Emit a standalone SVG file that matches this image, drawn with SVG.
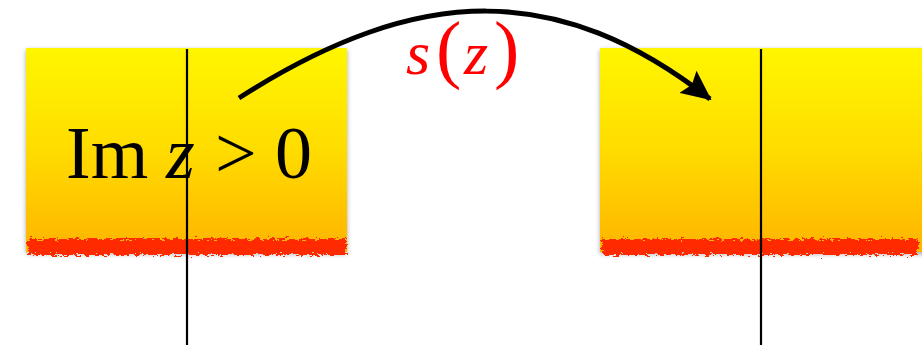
<svg xmlns="http://www.w3.org/2000/svg" width="922" height="345" viewBox="0 0 922 345">
<style>
.ax{stroke:#000;stroke-width:2.2;fill:none}
.big{font-family:"Liberation Serif","DejaVu Serif",serif;font-size:74px;fill:#000}
.lab{font-family:"Liberation Serif","DejaVu Serif",serif;font-size:62px;fill:#ff0000}
.par{font-size:76px}
.it{font-style:italic}
</style>
<defs>
<linearGradient id="yg" x1="0" y1="0" x2="0" y2="1">
<stop offset="0" stop-color="#fff600"/>
<stop offset="0.5" stop-color="#ffdc00"/>
<stop offset="1" stop-color="#ffb400"/>
</linearGradient>
<filter id="sh" x="-5%" y="-5%" width="110%" height="115%">
<feGaussianBlur in="SourceAlpha" stdDeviation="2.5"/>
<feOffset dx="0" dy="2" result="b"/>
<feComponentTransfer><feFuncA type="linear" slope="0.35"/></feComponentTransfer>
<feMerge><feMergeNode/><feMergeNode in="SourceGraphic"/></feMerge>
</filter>
<filter id="rough" x="-2%" y="-60%" width="104%" height="220%">
<feTurbulence type="fractalNoise" baseFrequency="0.2 0.5" numOctaves="3" seed="4" result="n"/>
<feDisplacementMap in="SourceGraphic" in2="n" scale="10" xChannelSelector="R" yChannelSelector="G"/>
</filter>
<marker id="ah" viewBox="0 0 30 28" refX="28" refY="14" markerWidth="30" markerHeight="28" markerUnits="userSpaceOnUse" orient="auto">
<path d="M0,0 L30,14 L0,28 L5,14 Z" fill="#000"/>
</marker>
</defs>
<g id="left-half-plane">
<rect x="26" y="48" width="321" height="204" fill="url(#yg)" filter="url(#sh)"/>
<rect x="28" y="239" width="318" height="16" fill="#ff2a00" filter="url(#rough)"/>
</g>
<g id="right-half-plane">
<rect x="600" y="48" width="330" height="204" fill="url(#yg)" filter="url(#sh)"/>
<rect x="602" y="239" width="316" height="16" fill="#ff2a00" filter="url(#rough)"/>
</g>
<g id="axes">
<line class="ax" x1="187" y1="49" x2="187" y2="345"/>
<line class="ax" x1="761" y1="49" x2="761" y2="345"/>
</g>
<g id="label-left">
<text class="big" y="178"><tspan x="66">Im</tspan><tspan class="it" x="166">z</tspan><tspan x="215">&gt;</tspan><tspan x="275">0</tspan></text>
</g>
<g id="connectors">
<path d="M239,98 C420,-18 560,-18 710,99" stroke="#000" stroke-width="5" fill="none" marker-end="url(#ah)"/>
</g>
<g id="label-map">
<text class="lab" y="74"><tspan class="it" x="406">s</tspan><tspan class="par" x="436">(</tspan><tspan class="it" x="464">z</tspan><tspan class="par" x="494">)</tspan></text>
</g>
</svg>
